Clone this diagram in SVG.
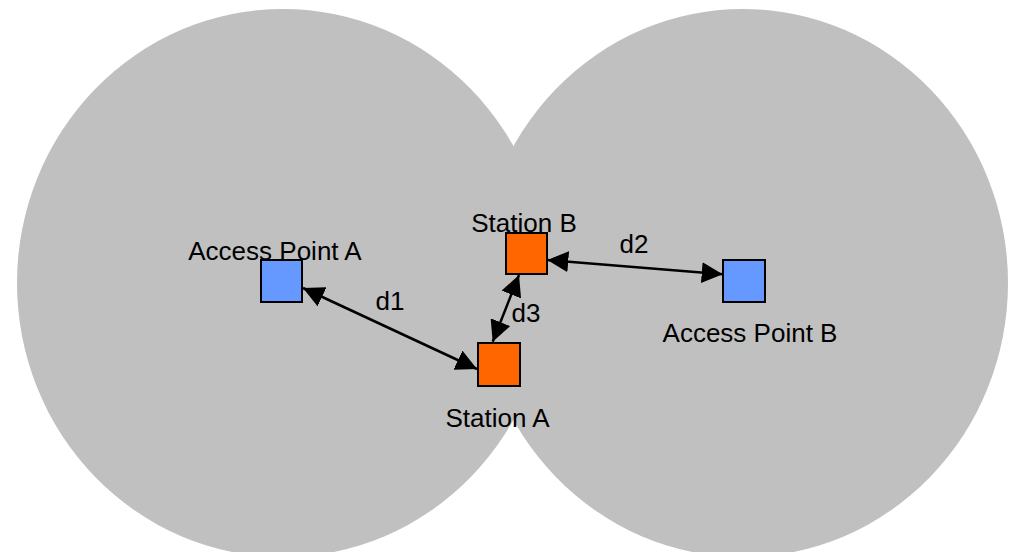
<svg xmlns="http://www.w3.org/2000/svg" width="1015" height="552" viewBox="0 0 1015 552">
<style>
.cov{fill:#C0C0C0;stroke:none}
.ap{fill:#6699FF;stroke:#000;stroke-width:2}
.st{fill:#FF6600;stroke:#000;stroke-width:2}
.lbl{font-family:"Liberation Sans",Arial,sans-serif;font-size:26px;fill:#000;text-anchor:middle}
.link{stroke:#000;stroke-width:2.5;fill:none;marker-start:url(#arr);marker-end:url(#arr)}
</style>
<defs>
<marker id="arr" viewBox="0 0 21 21" refX="21" refY="10.5" markerWidth="21" markerHeight="21" markerUnits="userSpaceOnUse" orient="auto-start-reverse">
<path d="M0,0 L21,10.5 L0,21 z" fill="#000"/>
</marker>
</defs>
<rect width="1015" height="552" fill="#fff"/>
<g id="coverage">
<ellipse class="cov" cx="283" cy="283" rx="266" ry="274"/>
<ellipse class="cov" cx="743" cy="283" rx="265" ry="274"/>
</g>
<g id="connectors">
<line class="link" x1="303" y1="288" x2="477" y2="369"/>
<line class="link" x1="547.3" y1="260" x2="722.7" y2="274.3"/>
<line class="link" x1="519" y1="275" x2="492.7" y2="341.7"/>
<text class="lbl" x="390" y="310">d1</text>
<text class="lbl" x="634" y="253">d2</text>
<text class="lbl" x="526" y="322">d3</text>
</g>
<g id="apA">
<rect class="ap" x="261" y="260" width="41" height="42"/>
<text class="lbl" x="275" y="260">Access Point A</text>
</g>
<g id="staB">
<rect class="st" x="506" y="233" width="41" height="41"/>
<text class="lbl" x="524" y="232">Station B</text>
</g>
<g id="staA">
<rect class="st" x="478" y="343" width="42" height="43"/>
<text class="lbl" x="497.5" y="427">Station A</text>
</g>
<g id="apB">
<rect class="ap" x="723" y="260" width="42" height="42"/>
<text class="lbl" x="750" y="342">Access Point B</text>
</g>
</svg>
